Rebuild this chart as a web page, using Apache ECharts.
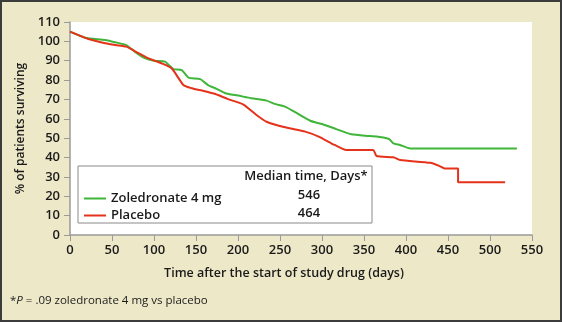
<!DOCTYPE html>
<html>
<head>
<meta charset="utf-8">
<script src="https://cdn.jsdelivr.net/npm/echarts@6/dist/echarts.min.js"></script>
<style>
  html, body { margin: 0; padding: 0; }
  #chart { width: 562px; height: 322px; }
</style>
</head>
<body>
<div id="chart"></div>
<script>
// survival curves
const seriesNames = ['Zoledronate 4 mg', 'Placebo'];
const medianDays = [546, 464];

const zolDays = [0, 18, 42, 54, 67, 77, 89, 101, 113, 123, 133, 141, 155, 165, 173, 185, 200, 216, 234, 244, 256, 268, 286, 300, 317, 335, 357, 373, 380, 385, 393, 405, 532];
const zolPct  = [105, 101.9, 100.7, 99.5, 98.1, 94.7, 91.3, 89.9, 89.5, 85.7, 85.2, 81.3, 80.5, 77.2, 75.8, 73.2, 72, 70.6, 69.4, 67.7, 66.3, 63.4, 59, 57.3, 54.7, 52, 51.1, 50.4, 49.5, 47.3, 46.5, 44.7, 44.7];

const plaDays = [0, 22, 42, 54, 67, 77, 93, 109, 121, 135, 145, 159, 173, 188, 206, 222, 234, 256, 280, 296, 315, 329, 361, 365, 385, 393, 429, 440, 446, 462, 462, 518];
const plaPct  = [105, 101.2, 99, 98.1, 97.3, 95, 91.3, 88.7, 86.1, 77.5, 75.8, 74.4, 72.8, 70.2, 67.5, 62, 58.5, 55.6, 53.4, 50.8, 46.5, 43.9, 43.9, 40.8, 40.1, 38.7, 37.3, 35.6, 34.4, 34.4, 27.2, 27.2];

const xTicks = { min: 0, max: 550, step: 50 };
const yTicks = { min: 0, max: 110, step: 10 };

const pairs = (xs, ys) => xs.map((x, i) => [x, ys[i]]);

const font = '"Open Sans", sans-serif';
const txt = '#1a1a1a';
const axisGray = '#9a9a9a';
const w = 600;

const chart = echarts.init(document.getElementById('chart'));

const option = {
    backgroundColor: '#ede8c7',
    animation: false,
    textStyle: { fontFamily: font },
    grid: {
        left: 70, right: 30, top: 22, bottom: 87,
        show: true, backgroundColor: '#ffffff', borderWidth: 0
    },
    xAxis: {
        type: 'value',
        min: xTicks.min, max: xTicks.max, interval: xTicks.step,
        name: 'Time after the start of study drug (days)',
        nameLocation: 'middle',
        nameGap: 32,
        // title sits a little left of the plot centre
        nameTextStyle: { color: txt, fontSize: 12.5, fontWeight: w, fontFamily: font, padding: [0, 34, 0, 0] },
        axisLine: { lineStyle: { color: axisGray, width: 1.5 } },
        axisTick: { inside: false, length: 6, lineStyle: { color: axisGray } },
        axisLabel: { color: txt, fontSize: 13, fontWeight: w, margin: 9, fontFamily: font },
        splitLine: { show: false }
    },
    yAxis: {
        type: 'value',
        min: yTicks.min, max: yTicks.max, interval: yTicks.step,
        name: '% of patients surviving',
        nameLocation: 'middle',
        nameGap: 42,
        nameTextStyle: { color: txt, fontSize: 12, fontWeight: w, fontFamily: font },
        axisLine: { show: true, lineStyle: { color: axisGray, width: 1.5 } },
        axisTick: { show: true, length: 6, lineStyle: { color: axisGray } },
        axisLabel: { color: txt, fontSize: 13, fontWeight: w, margin: 10, fontFamily: font },
        splitLine: { show: false }
    },
    legend: {
        orient: 'vertical',
        left: 79, top: 187,
        icon: 'rect',
        itemWidth: 22, itemHeight: 2,
        itemGap: 4,
        textStyle: { color: txt, fontSize: 13, fontWeight: w, fontFamily: font },
        data: seriesNames
    },
    graphic: [
        {
            type: 'rect', z: 3,
            shape: { x: 78, y: 166, width: 294, height: 57 },
            style: { fill: '#ffffff', stroke: '#8a8a8a', lineWidth: 1 }
        },
        {
            type: 'text', z: 6, x: 306, y: 176,
            style: { text: 'Median time, Days*', fill: txt, font: w + ' 13px ' + font, align: 'center', verticalAlign: 'middle' }
        },
        {
            type: 'text', z: 6, x: 309, y: 195,
            style: { text: String(medianDays[0]), fill: txt, font: w + ' 13px ' + font, align: 'center', verticalAlign: 'middle' }
        },
        {
            type: 'text', z: 6, x: 309, y: 213,
            style: { text: String(medianDays[1]), fill: txt, font: w + ' 13px ' + font, align: 'center', verticalAlign: 'middle' }
        },
        {
            type: 'text', z: 6, x: 10, y: 301,
            style: {
                text: '*{i|P} = .09 zoledronate 4 mg vs placebo',
                fill: txt, font: '11.5px ' + font, verticalAlign: 'middle',
                rich: { i: { fontStyle: 'italic', fontSize: 11.5, fontFamily: font, fill: txt } }
            }
        },
        {
            type: 'rect', z: 10,
            shape: { x: 1, y: 1, width: 560, height: 320 },
            style: { fill: null, stroke: '#3c3c3c', lineWidth: 2 }
        }
    ],
    series: [
        {
            name: seriesNames[0],
            type: 'line',
            data: pairs(zolDays, zolPct),
            showSymbol: false,
            smooth: 0.2,
            color: '#3fb53a',
            lineStyle: { width: 2, color: '#3fb53a' }
        },
        {
            name: seriesNames[1],
            type: 'line',
            data: pairs(plaDays, plaPct),
            showSymbol: false,
            smooth: 0.2,
            color: '#e5321b',
            lineStyle: { width: 2, color: '#e5321b' }
        }
    ]
};

chart.setOption(option);
</script>
</body>
</html>
